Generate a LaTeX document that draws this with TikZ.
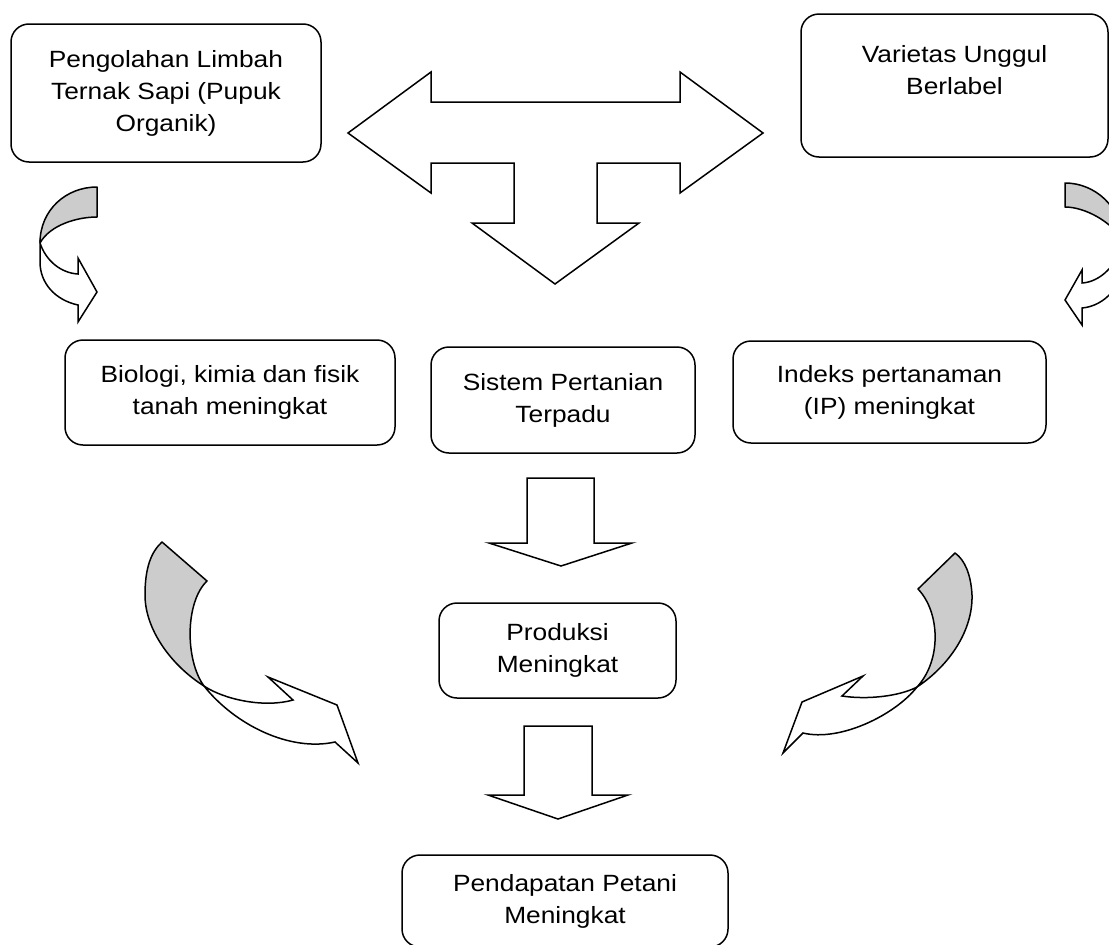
\documentclass[tikz,border=0pt]{standalone}
\usepackage{fontspec}
\setmainfont{Liberation Sans}[FakeStretch=1.12]
\tikzset{
    box/.style={
           rectangle, rounded corners=18pt,
           draw=black, line width=1.5pt,
           align=center, inner sep=0pt,
           font=\fontsize{23.5}{32}\selectfont,
           },
    blok/.style={draw=black, fill=white, line width=1.5pt},
    back/.style={draw=black, fill=black!20, line width=1.5pt, line join=round},
    front/.style={draw=black, fill=white, line width=1.5pt},
}

\begin{document}
\begin{tikzpicture}[x=1pt,y=-1pt]
\useasboundingbox (0,0) rectangle (1109,945);
\clip (0,0) rectangle (1109,945);
\node[box, minimum width=310pt, minimum height=138pt] (limbah) at (166,93) {Pengolahan Limbah\\Ternak Sapi (Pupuk\\Organik)};
\node[box, minimum width=307pt, minimum height=143pt] (varietas) at (954.5,85.5) {Varietas Unggul\\Berlabel\\\mbox{}};
\node[box, minimum width=330pt, minimum height=105pt] (biologi) at (230,392.5) {Biologi, kimia dan fisik\\tanah meningkat};
\node[box, minimum width=264pt, minimum height=106pt] (sistem) at (563,400) {Sistem Pertanian\\Terpadu};
\node[box, minimum width=313pt, minimum height=102pt] (indeks) at (889.5,392) {Indeks pertanaman\\(IP) meningkat};
\node[box, minimum width=237pt, minimum height=95pt] (produksi) at (557.5,650.5) {Produksi\\Meningkat};
\node[box, minimum width=326pt, minimum height=92pt] (pendapatan) at (565,901) {Pendapatan Petani\\Meningkat};
\filldraw[blok] (348,133) -- (431,72) -- (431,102) -- (680,102) -- (680,72) -- (763,133) -- (680,193) -- (680,163) -- (597,163) -- (597,223) -- (639,223) -- (555,284) -- (472,223) -- (514,223) -- (514,163) -- (431,163) -- (431,193) -- cycle;
\filldraw[blok] (527,478) -- (594,478) -- (594,543) -- (632,543) -- (561,566) -- (489,543) -- (527,543) -- cycle;
\filldraw[blok] (524,726) -- (592,726) -- (592,795) -- (628,795) -- (558,819) -- (488,795) -- (524,795) -- cycle;
\filldraw[back] (97,187) .. controls (66,187) and (40,210) .. (40,243) .. controls (50,225) and (77,217) .. (97,217) -- cycle;
\filldraw[front] (40,243) .. controls (46,261) and (61,273) .. (78,274) -- (78,258) -- (97,292) -- (78,322) -- (78,305) .. controls (55,300) and (40,283) .. (40,262) -- cycle;
\filldraw[back] (1065,183) .. controls (1095,183) and (1122,207) .. (1122,240) .. controls (1112,222) and (1085,207) .. (1065,207) -- cycle;
\filldraw[front] (1122,242) .. controls (1118,265) and (1100,282) .. (1082,283) -- (1082,270) -- (1065,300) -- (1082,325) -- (1082,308) .. controls (1105,306) and (1124,285) .. (1124,258) -- cycle;
\filldraw[back] (162,542) -- (207,581) .. controls (185,602) and (185,660) .. (204,686) .. controls (172,666) and (145,630) .. (145,595) .. controls (145,568) and (151,552) .. (162,542) -- cycle;
\filldraw[front] (204,686) .. controls (225,700) and (265,708) .. (293,700) -- (268,677) -- (337,705) -- (358,763) -- (335,742) .. controls (290,752) and (235,725) .. (204,686) -- cycle;
\filldraw[back] (955,553) -- (918,589) .. controls (940,612) and (942,660) .. (917,687) .. controls (950,665) and (973,630) .. (972,595) .. controls (971,575) and (965,560) .. (955,553) -- cycle;
\filldraw[front] (917,687) .. controls (900,696) and (868,700) .. (842,696) -- (863,676) -- (802,702) -- (783,753) -- (803,733) .. controls (840,742) and (895,715) .. (917,687) -- cycle;
\end{tikzpicture}
\end{document}
